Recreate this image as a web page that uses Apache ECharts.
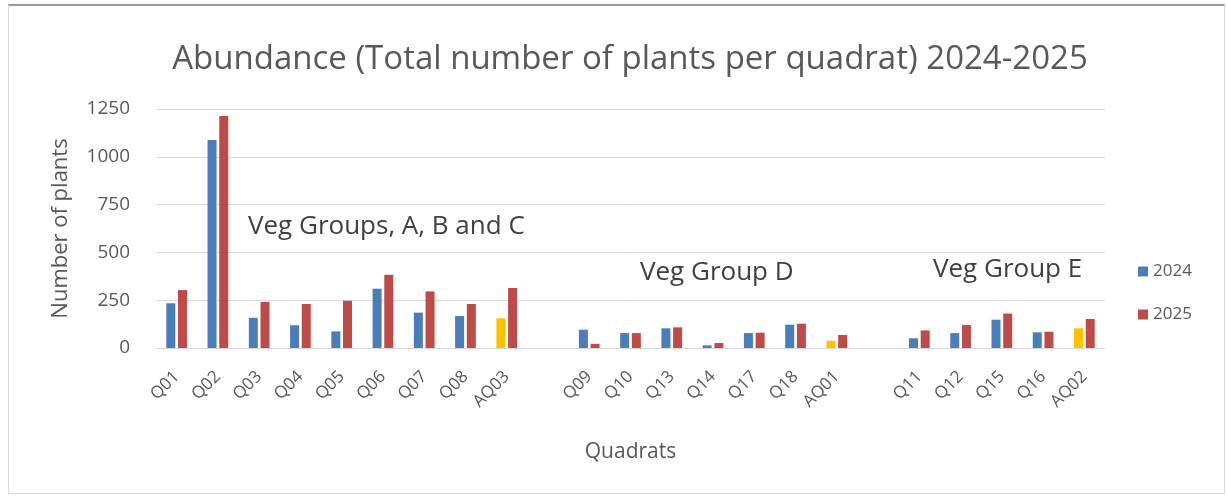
<!DOCTYPE html>
<html>
<head>
<meta charset="utf-8">
<script src="https://cdn.jsdelivr.net/npm/echarts@6/dist/echarts.min.js"></script>
<style>
  html, body { margin: 0; padding: 0; background: #fff; }
  #frame {
    position: absolute; left: 8px; top: 4px; width: 1217px; height: 490px;
    border: 1px solid #d9d9d9; border-top: 2px solid #9a9a9a; box-sizing: border-box;
  }
  #chart { position: absolute; left: 0; top: 0; width: 1227px; height: 498px; }
</style>
</head>
<body>
<div id="frame"></div>
<div id="chart"></div>
<script>
// blank entries separate the veg groups
var categories = ['Q01', 'Q02', 'Q03', 'Q04', 'Q05', 'Q06', 'Q07', 'Q08', 'AQ03', '',
  'Q09', 'Q10', 'Q13', 'Q14', 'Q17', 'Q18', 'AQ01', '',
  'Q11', 'Q12', 'Q15', 'Q16', 'AQ02'];
var values2024 = [234, 1088, 158, 119, 87, 310, 185, 167, 155, null,
  96, 78, 103, 14, 78, 122, 38, null,
  51, 78, 148, 82, 103];
var values2025 = [303, 1213, 241, 230, 247, 383, 296, 230, 314, null,
  22, 78, 108, 26, 80, 127, 68, null,
  92, 120, 180, 85, 152];
var yTicks = [0, 250, 500, 750, 1000, 1250];
var groupLabels = ['Veg Groups, A, B and C', 'Veg Group D', 'Veg Group E'];

var blue = '#4a7ebb', red = '#be4b48', yellow = '#ffc000';
var font = 'Open Sans';

function initChart(dom) {
  var myChart = echarts.init(dom),
    data2024 = values2024.map(function (v, i) {
      if (v === null) return '-';
      // AQ quadrats are shown in yellow for 2024
      if (categories[i].indexOf('AQ') === 0) {
        return { value: v, itemStyle: { color: yellow } };
      }
      return v;
    }),
    data2025 = values2025.map(function (v) {
      return v === null ? '-' : v;
    }),
    option = {
      animation: false,
      textStyle: { fontFamily: font },
      title: {
        text: 'Abundance (Total number of plants per quadrat) 2024-2025',
        left: 625,
        textAlign: 'center',
        top: 38,
        textStyle: { fontFamily: font, fontSize: 33, fontWeight: 'normal', color: '#595959' }
      },
      legend: {
        orient: 'vertical',
        left: 1133,
        top: 258,
        itemWidth: 10,
        itemHeight: 10,
        itemGap: 26,
        icon: 'rect',
        textStyle: { fontFamily: font, fontSize: 17, color: '#595959' },
        data: ['2024', '2025']
      },
      grid: { left: 156, right: 122, top: 109, bottom: 150 },
      graphic: [
        { type: 'text', left: 248, top: 214,
          style: { text: groupLabels[0], fontFamily: font, fontSize: 26, fill: '#404040' } },
        { type: 'text', left: 640, top: 260,
          style: { text: groupLabels[1], fontFamily: font, fontSize: 26, fill: '#404040' } },
        { type: 'text', left: 933, top: 257,
          style: { text: groupLabels[2], fontFamily: font, fontSize: 26, fill: '#404040' } }
      ],
      xAxis: {
        type: 'category',
        data: categories,
        name: 'Quadrats',
        nameLocation: 'middle',
        nameGap: 94,
        nameTextStyle: { fontFamily: font, fontSize: 21, color: '#595959' },
        axisLine: { lineStyle: { color: '#d9d9d9' } },
        axisTick: { show: false },
        axisLabel: {
          interval: 0, rotate: 45, margin: 26,
          fontFamily: font, fontSize: 17, color: '#595959'
        }
      },
      yAxis: {
        type: 'value',
        min: yTicks[0],
        max: yTicks[yTicks.length - 1],
        interval: 250,
        name: 'Number of plants',
        nameLocation: 'middle',
        nameGap: 84,
        nameTextStyle: { fontFamily: font, fontSize: 22, color: '#595959' },
        axisLine: { show: false },
        axisTick: { show: false },
        axisLabel: {
          margin: 26, fontFamily: font, fontSize: 19, color: '#595959',
          formatter: function (v) { return String(v); }
        },
        splitLine: { lineStyle: { color: '#d9d9d9' } }
      },
      series: [{
        name: '2024',
        type: 'bar',
        barWidth: 9,
        barGap: '30%',
        itemStyle: { color: blue },
        data: data2024
      }, {
        name: '2025',
        type: 'bar',
        barWidth: 9,
        itemStyle: { color: red },
        data: data2025
      }]
    };
  myChart.setOption(option, true);
  window.addEventListener('resize', function () {
    myChart.resize();
  });
}

initChart(document.getElementById('chart'));
</script>
</body>
</html>
